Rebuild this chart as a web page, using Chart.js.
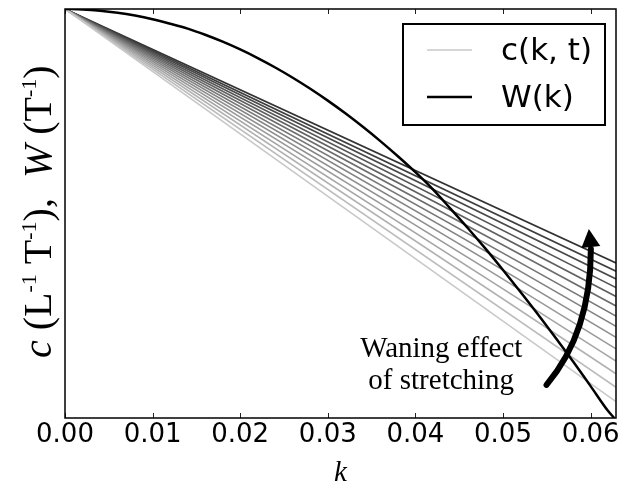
<!DOCTYPE html>
<html>
<head>
<meta charset="utf-8">
<script src="https://cdn.jsdelivr.net/npm/chart.js@4.4.1/dist/chart.umd.min.js"></script>
<style>
  body { margin: 0; background: #fff; }
  canvas { display: block; }
</style>
</head>
<body>
<canvas id="dispChart" width="618" height="485"></canvas>
<script>
// x axis
const kMax = 0.0629;
const kTicks = [0, 0.01, 0.02, 0.03, 0.04, 0.05, 0.06];

// W(k)
const wK = [0, 0.002, 0.004, 0.006, 0.008, 0.010, 0.012, 0.014, 0.016, 0.018,
            0.020, 0.022, 0.024, 0.026, 0.028, 0.030, 0.032, 0.034, 0.036, 0.038,
            0.040, 0.042, 0.044, 0.046, 0.048, 0.050, 0.052, 0.054, 0.056, 0.058,
            0.060, 0.062, 0.0627];
const wVal = [1.000, 0.999, 0.996, 0.991, 0.984, 0.975, 0.964, 0.952, 0.937, 0.920,
              0.901, 0.880, 0.857, 0.832, 0.805, 0.776, 0.745, 0.712, 0.677, 0.640,
              0.601, 0.559, 0.512, 0.464, 0.414, 0.362, 0.308, 0.253, 0.196, 0.138,
              0.078, 0.017, 0.000];

// c(k, t): straight lines from the top-left corner, one per time step
const cK = [0, kMax];
const cStart = 1.0;
const cEnd = [0.040, 0.075, 0.108, 0.139, 0.169, 0.197, 0.224,
              0.249, 0.274, 0.297, 0.319, 0.340, 0.359, 0.379];
const cGray = [200, 188, 177, 165, 154, 142, 131, 119, 108, 96, 85, 73, 62, 50];

// annotation, in data coordinates
const arrowTail = [0.05497, 0.081];
const arrowCtrl = [0.06003, 0.210];
const arrowEnd = [0.06003, 0.418];
const arrowTip = [0.05980, 0.462];
const noteLines = ["Waning effect", "of stretching"];
const notePos = [[0.04295, 0.149], [0.04295, 0.071]];

const datasets = [{
    label: "W(k)",
    data: wK.map((k, i) => ({ x: k, y: wVal[i] })),
    borderColor: "#000",
    borderWidth: 2.5,
    pointRadius: 0,
    cubicInterpolationMode: "monotone"
}];
cEnd.forEach((e, i) => {
    const g = cGray[i];
    datasets.push({
        label: "c(k, t)",
        data: [{ x: cK[0], y: cStart }, { x: cK[1], y: e }],
        borderColor: `rgb(${g},${g},${g})`,
        borderWidth: 1.6,
        pointRadius: 0
    });
});

const frame = {
    id: "frame",
    afterDraw(chart) {
        const { ctx, chartArea: a, scales: { x, y } } = chart;
        ctx.save();

        // inward ticks, bottom and top
        ctx.strokeStyle = "#222";
        ctx.lineWidth = 1;
        kTicks.forEach(t => {
            const px = Math.round(x.getPixelForValue(t)) + 0.5;
            ctx.beginPath();
            ctx.moveTo(px, a.bottom); ctx.lineTo(px, a.bottom - 5);
            ctx.moveTo(px, a.top); ctx.lineTo(px, a.top + 5);
            ctx.stroke();
        });

        // axes box
        ctx.strokeStyle = "#000";
        ctx.lineWidth = 1.5;
        ctx.strokeRect(a.left, a.top, a.right - a.left, a.bottom - a.top);

        // legend
        const lx = a.right - 11, ly = a.top + 15, lw = 202, lh = 101;
        ctx.fillStyle = "#fff";
        ctx.fillRect(lx - lw, ly, lw, lh);
        ctx.lineWidth = 2;
        ctx.strokeRect(lx - lw, ly, lw, lh);
        const rows = [["c(k, t)", `rgb(${cGray[0]},${cGray[0]},${cGray[0]})`, 1.6, 26],
                      ["W(k)", "#000", 2.5, 73]];
        ctx.font = "31px 'DejaVu Sans'";
        ctx.textBaseline = "middle";
        ctx.textAlign = "left";
        rows.forEach(([txt, col, w, dy]) => {
            ctx.strokeStyle = col;
            ctx.lineWidth = w;
            ctx.beginPath();
            ctx.moveTo(lx - lw + 24, ly + dy);
            ctx.lineTo(lx - lw + 69, ly + dy);
            ctx.stroke();
            ctx.fillStyle = "#000";
            ctx.fillText(txt, lx - lw + 98, ly + dy + 2);
        });

        // curved arrow
        const P = p => [x.getPixelForValue(p[0]), y.getPixelForValue(p[1])];
        const t0 = P(arrowTail), c0 = P(arrowCtrl), e0 = P(arrowEnd), tip = P(arrowTip);
        ctx.strokeStyle = "#000";
        ctx.lineWidth = 6;
        ctx.lineCap = "round";
        ctx.beginPath();
        ctx.moveTo(t0[0], t0[1]);
        ctx.quadraticCurveTo(c0[0], c0[1], e0[0], e0[1] + 2);
        ctx.stroke();
        const dx = tip[0] - e0[0], dyy = tip[1] - e0[1];
        const len = Math.hypot(dx, dyy), nx = -dyy / len, ny = dx / len;
        ctx.fillStyle = "#000";
        ctx.beginPath();
        ctx.moveTo(tip[0], tip[1]);
        ctx.lineTo(e0[0] + nx * 9.5, e0[1] + ny * 9.5);
        ctx.lineTo(e0[0] - nx * 9.5, e0[1] - ny * 9.5);
        ctx.closePath();
        ctx.fill();

        // note text
        ctx.font = "29px 'Liberation Serif'";
        ctx.textAlign = "center";
        ctx.textBaseline = "alphabetic";
        noteLines.forEach((s, i) => {
            const p = P(notePos[i]);
            ctx.fillText(s, p[0], p[1]);
        });

        // y label: c (L-1 T-1),  W (T-1)
        const parts = [["c", "italic", 0], [" (L", "", 0], ["-1", "", 1], [" T", "", 0],
                       ["-1", "", 1], ["),  ", "", 0], ["W", "italic", 0], [" (T", "", 0],
                       ["-1", "", 1], [")", "", 0]];
        ctx.translate(51, 358);
        ctx.rotate(-Math.PI / 2);
        ctx.textAlign = "left";
        let cx = 0;
        parts.forEach(([s, st, sup]) => {
            ctx.font = `${st} ${sup ? 22 : 40}px 'Liberation Serif'`;
            ctx.fillText(s, cx, sup ? -15 : 0);
            cx += ctx.measureText(s).width;
        });
        ctx.restore();
    }
};

new Chart(document.getElementById("dispChart"), {
    type: "line",
    data: { datasets },
    options: {
        responsive: false,
        animation: false,
        devicePixelRatio: 1,
        layout: { padding: { left: 65, right: 2, top: 9, bottom: 0 } },
        plugins: { legend: { display: false }, tooltip: { enabled: false } },
        scales: {
            x: {
                type: "linear",
                min: 0,
                max: kMax,
                afterFit: s => { s.height = 67; s.paddingLeft = 0; s.paddingRight = 0; },
                grid: { display: false, drawTicks: false },
                border: { display: false },
                ticks: {
                    stepSize: 0.01,
                    includeBounds: false,
                    padding: 4,
                    color: "#000",
                    font: { family: "'DejaVu Sans'", size: 26, lineHeight: 1 },
                    callback: v => v.toFixed(2)
                },
                title: {
                    display: true,
                    text: "k",
                    color: "#000",
                    padding: { top: 0, bottom: 0 },
                    font: { family: "'Liberation Serif'", style: "italic", size: 29, lineHeight: 0.8 }
                }
            },
            y: { display: false, min: 0, max: 1 }
        }
    },
    plugins: [frame]
});
</script>
</body>
</html>
